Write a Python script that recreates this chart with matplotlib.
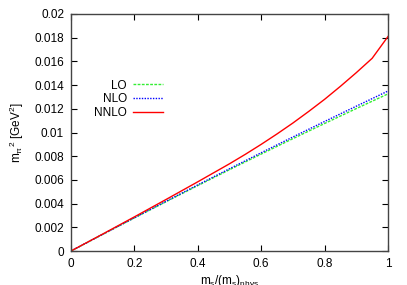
import matplotlib
matplotlib.use("Agg")
import matplotlib.pyplot as plt

plt.rcParams['font.family'] = ['Liberation Sans', 'DejaVu Sans']

ms = [0, 0.1, 0.2, 0.3, 0.4, 0.5, 0.6, 0.7, 0.8, 0.9, 0.95, 1.0]
lo = [0, 0.00140, 0.00279, 0.00416, 0.00552, 0.00686, 0.00818, 0.00948, 0.01076, 0.01202, 0.01264, 0.01326]
nlo = [0, 0.00141, 0.00281, 0.00420, 0.00558, 0.00694, 0.00829, 0.00962, 0.01093, 0.01222, 0.01286, 0.01350]

ms_nnlo = [0, 0.1, 0.2, 0.3, 0.4, 0.5, 0.55, 0.6, 0.65, 0.7, 0.75, 0.8, 0.85, 0.9, 0.95, 1.0]
nnlo = [0, 0.00143, 0.00288, 0.00435, 0.00584, 0.00736, 0.00816, 0.00900, 0.00988,
        0.01080, 0.01178, 0.01280, 0.01390, 0.01505, 0.01626, 0.01810]

fig = plt.figure(figsize=(4.07, 2.85), dpi=100)
ax = fig.add_axes([71/407, 1-251/285, 317/407, 237/285])

ax.plot(ms, lo, color='#33ee33', ls=(0, (2, 1)), lw=1, label='LO')
ax.plot(ms, nlo, color='#0000ff', ls=(0, (1, 1)), lw=1, label='NLO')
ax.plot(ms_nnlo, nnlo, color='#ff0000', lw=1, label='NNLO')

ax.set_xlim(0, 1)
ax.set_ylim(0, 0.02)
ax.set_xticks([0, 0.2, 0.4, 0.6, 0.8, 1])
ax.set_xticklabels(['0', '0.2', '0.4', '0.6', '0.8', '1'])
ax.set_yticks([i*0.002 for i in range(11)])
ax.set_yticklabels(['0', '0.002', '0.004', '0.006', '0.008', '0.01', '0.012',
                    '0.014', '0.016', '0.018', '0.02'])
ax.tick_params(direction='in', top=True, right=True, length=4, labelsize=8.5, pad=5)
for s in ax.spines.values():
    s.set_color('#444444')
    s.set_linewidth(1)

ax.set_xlabel(r'm$_\mathregular{s}$/(m$_\mathregular{s}$)$_\mathregular{phys}$', fontsize=8.5, labelpad=2)
ax.set_ylabel(r'm$_\mathregular{\pi}$$^\mathregular{2}$ [GeV$^\mathregular{2}$]', fontsize=8.5, labelpad=6)

ax.legend(loc='center right', bbox_to_anchor=(0.325, 0.64), frameon=False, markerfirst=False,
          fontsize=8.5, handlelength=2.6, handletextpad=0.5, labelspacing=0.15)

fig.savefig('out.png', dpi=100)
